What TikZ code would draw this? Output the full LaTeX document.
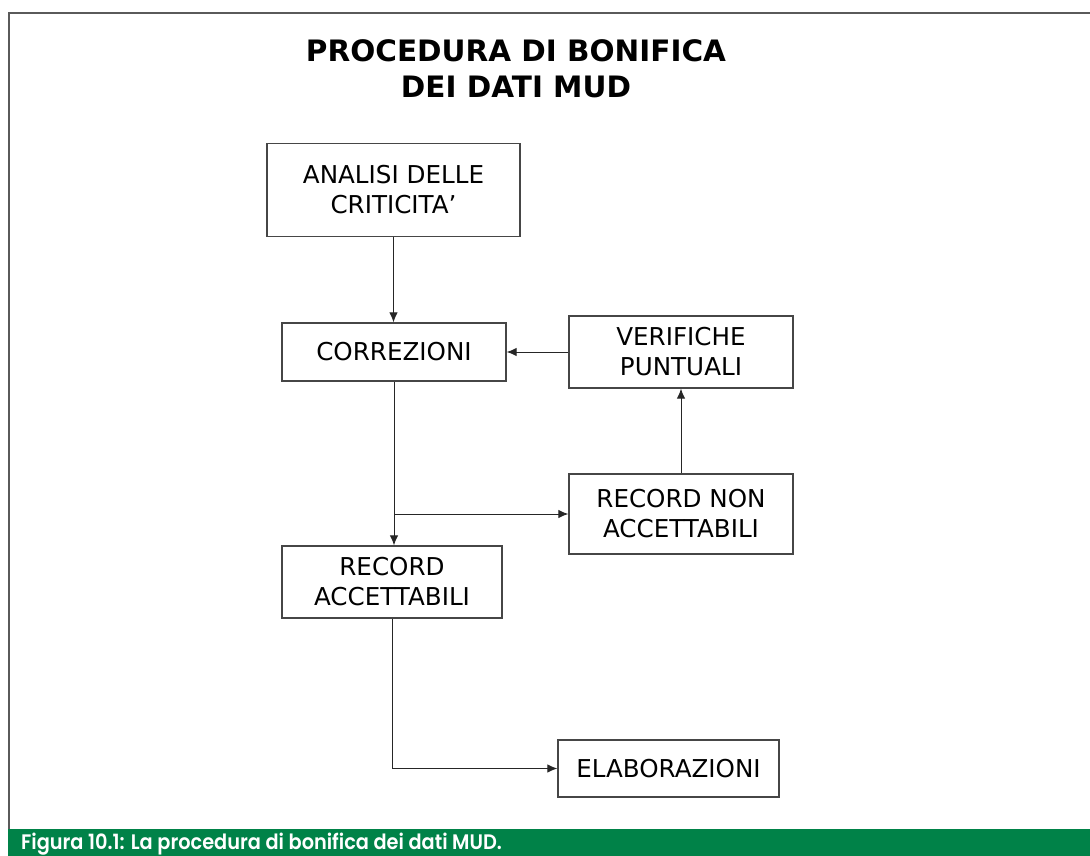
\documentclass[tikz,border=0pt]{standalone}
\usepackage{fontspec}
\setmainfont{DejaVu Sans}
\newfontfamily\capfont{Poppins SemiBold}
\usetikzlibrary{arrows.meta}
\definecolor{boxgray}{RGB}{70,70,70}
\definecolor{framegray}{RGB}{90,90,90}
\definecolor{capgreen}{RGB}{0,130,72}
\tikzset{
  flowbox/.style={draw=boxgray, line width=1.3pt, inner sep=0pt, align=center,
    font=\fontsize{24.6}{30}\selectfont, text=black},
  conn/.style={draw=black!85, line width=1pt, -{Latex[length=10pt,width=8.5pt]}},
  titletext/.style={anchor=base, inner sep=0pt, font=\fontsize{29.5}{36}\selectfont\bfseries}
}
\begin{document}
\begin{tikzpicture}[x=1pt,y=-1pt]
\useasboundingbox (0,0) rectangle (1090,856);
\fill[white] (0,0) rectangle (1090,856);
% frame
\draw[framegray, line width=2pt] (1090,13) -- (9,13) -- (9,829);
% caption bar
\fill[capgreen] (8,829) rectangle (1090,856);
\node[anchor=base west, inner sep=0pt, text=white] (cap) at (21,849.5)
  {\scalebox{0.92}[1]{\capfont\fontsize{21}{24}\selectfont Figura 10.1: La procedura di bonifica dei dati MUD.}};
% title
\node[titletext] (t1) at (516,62) {PROCEDURA DI BONIFICA};
\node[titletext] (t2) at (516,98) {DEI DATI MUD};
% boxes
\node[flowbox, minimum width=253pt, minimum height=93pt] (ana) at (393.5,190) {ANALISI DELLE\\CRITICITA’};
\node[flowbox, minimum width=224pt, minimum height=58pt] (cor) at (394,352) {CORREZIONI};
\node[flowbox, minimum width=224pt, minimum height=72pt] (ver) at (681,352) {VERIFICHE\\PUNTUALI};
\node[flowbox, minimum width=224pt, minimum height=80pt] (rnon) at (681,514) {RECORD NON\\ACCETTABILI};
\node[flowbox, minimum width=220pt, minimum height=72pt] (racc) at (392,582) {RECORD\\ACCETTABILI};
\node[flowbox, minimum width=221pt, minimum height=57pt] (ela) at (668.5,768.5) {ELABORAZIONI};
% connectors
\draw[conn] (ana.south) -- (ana.south |- cor.north);
\draw[conn] (ver.west) -- (cor.east |- ver.west);
\draw[conn] (cor.south) -- (cor.south |- racc.north);
\coordinate (split) at (cor.south |- rnon.west);
\draw[conn] (split) -- (rnon.west);
\draw[conn] (rnon.north) -- (ver.south);
\draw[conn] (racc.south) |- (ela.west);
\end{tikzpicture}
\end{document}
